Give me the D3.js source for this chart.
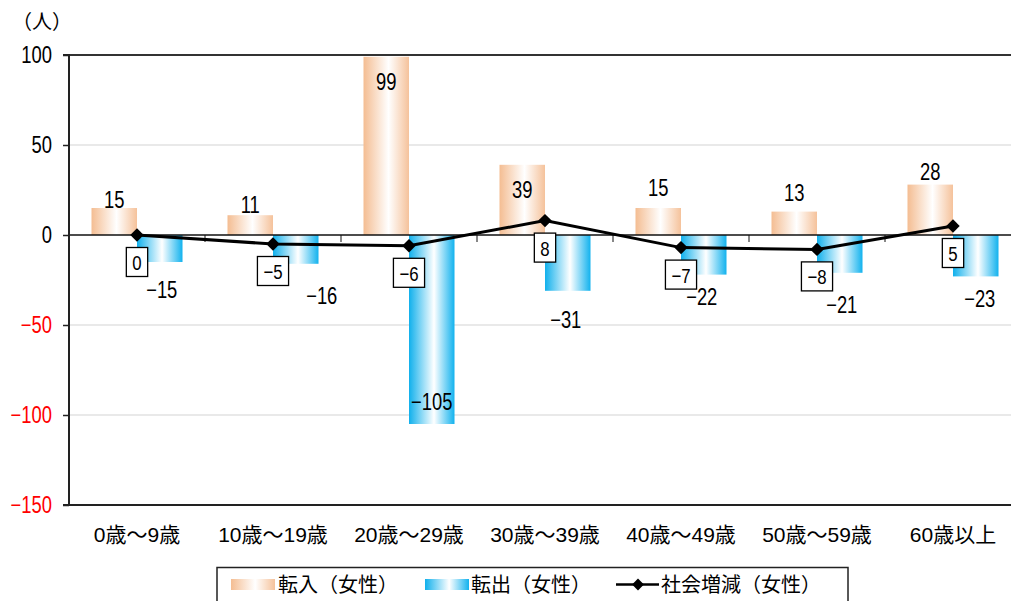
<!DOCTYPE html>
<html><head><meta charset="utf-8">
<script src="https://cdn.jsdelivr.net/npm/d3@7"></script>
<style>
html,body{margin:0;padding:0;background:#fff;overflow:hidden;}
svg{display:block;}
text{font-family:"Liberation Sans","Noto Sans CJK JP",sans-serif;}
.jp{font-family:"Liberation Sans","Noto Sans CJK JP",sans-serif;}
</style></head>
<body>
<svg id="chart" width="1011" height="601"></svg>
<script>
const categories = ["0歳～9歳","10歳～19歳","20歳～29歳","30歳～39歳","40歳～49歳","50歳～59歳","60歳以上"];
const inflow  = [15, 11, 99, 39, 15, 13, 28];
const outflow = [-15, -16, -105, -31, -22, -21, -23];
const net     = [0, -5, -6, 8, -7, -8, 5];
const yTicks  = [100, 50, 0, -50, -100, -150];
const seriesNames = ["転入（女性）","転出（女性）","社会増減（女性）"];
// label nudges (px) relative to bar ends
const inLabelDy  = [-8, -10, 25, 25, -20, -19, -13];
const outLabelDy = [28, 32, -22, 29, 22, 32, 22];
const outLabelDx = [2, 26, 0, -2, -2, 2, 4];

const svg = d3.select("#chart");
const plot = {left:69, right:1021, top:55, bottom:505};
const x = d3.scaleBand().domain(categories).range([plot.left, plot.right]).paddingInner(0).paddingOuter(0);
const y = d3.scaleLinear().domain([-150, 100]).range([plot.bottom, plot.top]);
const barW = 45.5;
const SX = 0.8; // horizontal condensing for numerals
const fmt = v => v < 0 ? "\u2212" + Math.abs(v) : String(v);

function narrow(sel, px, py, str, size, anchor, fill){
  const g = sel.append("g").attr("transform", `translate(${px},${py})`);
  const t = g.append("text").attr("transform", `scale(${SX},1)`)
    .attr("text-anchor", anchor).attr("dy","0.36em")
    .style("font-size", size).attr("fill", fill || "#000").text(str);
  return {g, t};
}

const defs = svg.append("defs");
function grad(id, edgeL, edgeR){
  const g = defs.append("linearGradient").attr("id", id).attr("x1","0%").attr("x2","100%").attr("y1","0%").attr("y2","0%");
  g.append("stop").attr("offset","0%").attr("stop-color", edgeL);
  g.append("stop").attr("offset","55%").attr("stop-color", "#ffffff");
  g.append("stop").attr("offset","100%").attr("stop-color", edgeR);
}
grad("gIn", "#F4BD92", "#F5C29B");
grad("gOut", "#10B0EC", "#12B2EE");

svg.append("g").selectAll("line").data([50, -50, -100]).join("line")
  .attr("x1", plot.left).attr("x2", plot.right)
  .attr("y1", d => y(d)).attr("y2", d => y(d))
  .attr("stroke", "#d4d4d4").attr("stroke-width", 1.2);

const cx = c => x(c) + x.bandwidth()/2;
svg.append("g").selectAll("rect").data(inflow).join("rect")
  .attr("x", (d,i) => cx(categories[i]) - barW)
  .attr("width", barW)
  .attr("y", d => y(Math.max(0,d)))
  .attr("height", d => Math.abs(y(d) - y(0)))
  .attr("fill", "url(#gIn)");
svg.append("g").selectAll("rect").data(outflow).join("rect")
  .attr("x", (d,i) => cx(categories[i]))
  .attr("width", barW)
  .attr("y", d => y(Math.max(0,d)))
  .attr("height", d => Math.abs(y(d) - y(0)))
  .attr("fill", "url(#gOut)");

svg.append("line").attr("x1", plot.left).attr("x2", plot.right).attr("y1", y(100)).attr("y2", y(100)).attr("stroke", "#333").attr("stroke-width", 2);
svg.append("line").attr("x1", plot.left).attr("x2", plot.right).attr("y1", y(-150)).attr("y2", y(-150)).attr("stroke", "#222").attr("stroke-width", 2);
svg.append("line").attr("x1", plot.left).attr("x2", plot.right).attr("y1", y(0)).attr("y2", y(0)).attr("stroke", "#111").attr("stroke-width", 1.5);

svg.append("g").selectAll("line").data(categories.slice(1)).join("line")
  .attr("x1", d => x(d)).attr("x2", d => x(d))
  .attr("y1", y(0)).attr("y2", y(0) + 7)
  .attr("stroke", "#111").attr("stroke-width", 1);

const yAxis = d3.axisLeft(y).tickValues(yTicks).tickSize(6).tickFormat("");
const ya = svg.append("g").attr("transform", `translate(${plot.left},0)`).call(yAxis);
ya.select(".domain").attr("stroke", "#222").attr("stroke-width", 2).attr("d", `M-6,${y(100)}H0V${y(-150)}H-6`);
ya.selectAll(".tick line").attr("stroke", "#222").attr("stroke-width", 1.5);
const yl = svg.append("g");
yTicks.forEach(v => narrow(yl, 52, y(v), fmt(v), "23px", "end", v < 0 ? "#FF0000" : "#000"));

svg.append("text").attr("class","jp").attr("x", 12).attr("y", 29).style("font-size","20px").text("（人）");

svg.append("g").selectAll("text").data(categories).join("text")
  .attr("class","jp")
  .attr("x", d => cx(d)).attr("y", 542)
  .attr("text-anchor","middle").style("font-size","21px").text(d => d);

const line = d3.line().x((d,i) => cx(categories[i])).y(d => y(d));
svg.append("path").datum(net).attr("d", line).attr("fill","none").attr("stroke","#000").attr("stroke-width",3);
svg.append("g").selectAll("path").data(net).join("path")
  .attr("d", d3.symbol().type(d3.symbolSquare).size(90))
  .attr("transform", (d,i) => `translate(${cx(categories[i])},${y(d)}) rotate(45)`)
  .attr("fill","#000");

const lblFont = "23px";
const il = svg.append("g");
inflow.forEach((d,i) => narrow(il, cx(categories[i]) - barW/2, y(d) + inLabelDy[i], fmt(d), lblFont, "middle"));
const ol = svg.append("g");
outflow.forEach((d,i) => narrow(ol, cx(categories[i]) + barW/2 + outLabelDx[i], y(d) + outLabelDy[i], fmt(d), lblFont, "middle"));
const nl = svg.append("g");
net.forEach((d,i) => {
  const px = cx(categories[i]), top = y(d) + 12.5;
  const {g, t} = narrow(nl, px, top + 15, fmt(d), "21px", "middle");
  const w = t.node().getComputedTextLength() * SX + 12;
  g.insert("rect","text").attr("x",-w/2).attr("y",-15).attr("width",w).attr("height",29).attr("fill","#fff").attr("stroke","#000").attr("stroke-width",1.3);
});

const lg = svg.append("g");
lg.append("rect").attr("x",217).attr("y",567.5).attr("width",631).attr("height",40).attr("fill","#fff").attr("stroke","#222").attr("stroke-width",1.5);
lg.append("rect").attr("x",231).attr("y",579).attr("width",44).attr("height",11).attr("fill","url(#gIn)");
lg.append("text").attr("class","jp").attr("x",278).attr("y",592).style("font-size","20px").text(seriesNames[0]);
lg.append("rect").attr("x",425).attr("y",579).attr("width",44).attr("height",11).attr("fill","url(#gOut)");
lg.append("text").attr("class","jp").attr("x",471).attr("y",592).style("font-size","20px").text(seriesNames[1]);
lg.append("line").attr("x1",616).attr("x2",659).attr("y1",584.5).attr("y2",584.5).attr("stroke","#000").attr("stroke-width",2.6);
lg.append("path").attr("d", d3.symbol().type(d3.symbolSquare).size(70)).attr("transform","translate(638,584.5) rotate(45)").attr("fill","#000");
lg.append("text").attr("class","jp").attr("x",661).attr("y",592).style("font-size","20px").text(seriesNames[2]);
</script>
</body></html>
